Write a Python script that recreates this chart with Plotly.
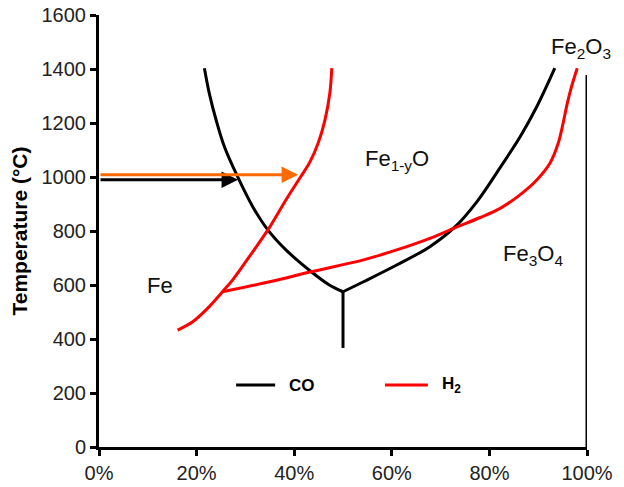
import plotly.graph_objects as go

# CO (black) boundaries
co_left_x = [21.6, 22.6, 24.0, 25.7, 28.4, 31.5, 34.6, 38.3, 43.5, 47.2, 50.0]
co_left_y = [1403, 1310, 1211, 1112, 1001, 890, 804, 730, 649, 600, 575]
co_right_x = [50.0, 54.2, 61.0, 67.8, 73.0, 77.5, 82.2, 86.3, 89.7, 93.4]
co_right_y = [575, 612, 674, 742, 816, 910, 1035, 1149, 1260, 1403]
co_stem_x = [50.0, 50.0]
co_stem_y = [575, 367]

# H2 (red) boundaries
h2_left_x = [16.1, 19.2, 22.6, 25.3, 27.4, 30.8, 34.6, 38.3, 41.3, 43.2, 44.9, 46.3, 47.3, 47.7]
h2_left_y = [433, 464, 520, 575, 619, 705, 804, 915, 1000, 1055, 1125, 1211, 1310, 1403]
h2_right_x = [25.3, 35.0, 43.5, 54.2, 61.0, 67.8, 73.5, 78.1, 82.2, 86.2, 89.7, 92.4, 94.1, 95.1, 95.9, 96.8, 98.0]
h2_right_y = [575, 612, 649, 693, 730, 773, 816, 850, 884, 933, 989, 1051, 1125, 1199, 1268, 1333, 1403]

# Fe2O3 boundary
fe2o3_x = [100, 100]
fe2o3_y = [0, 1378]

# reading arrows at ~1000 °C
co_arrow_x = [0, 28.5]
co_arrow_y = 990
h2_arrow_x = [0, 40.8]
h2_arrow_y = 1008

x_ticks = [0, 20, 40, 60, 80, 100]
x_tick_labels = ["0%", "20%", "40%", "60%", "80%", "100%"]
y_ticks = [0, 200, 400, 600, 800, 1000, 1200, 1400, 1600]

BLACK = "#000000"
RED = "#FF0000"
ORANGE = "#FF6A00"
LW = 3
FONT = "Liberation Sans, Arial, sans-serif"

fig = go.Figure()
for xs, ys, col, shp in [
    (co_left_x, co_left_y, BLACK, "spline"),
    (co_right_x, co_right_y, BLACK, "spline"),
    (co_stem_x, co_stem_y, BLACK, "linear"),
    (h2_left_x, h2_left_y, RED, "spline"),
    (h2_right_x, h2_right_y, RED, "spline"),
    (fe2o3_x, fe2o3_y, BLACK, "linear"),
]:
    fig.add_trace(go.Scatter(x=xs, y=ys, mode="lines", line=dict(color=col, width=LW, shape=shp),
                             showlegend=False, hoverinfo="skip"))

# arrows
fig.add_annotation(x=co_arrow_x[1], y=co_arrow_y, ax=co_arrow_x[0], ay=co_arrow_y,
                   xref="x", yref="y", axref="x", ayref="y",
                   showarrow=True, arrowhead=2, arrowsize=1.1, arrowwidth=3, arrowcolor=BLACK, text="")
fig.add_annotation(x=h2_arrow_x[1], y=h2_arrow_y, ax=h2_arrow_x[0], ay=h2_arrow_y,
                   xref="x", yref="y", axref="x", ayref="y",
                   showarrow=True, arrowhead=2, arrowsize=1.1, arrowwidth=3, arrowcolor=ORANGE, text="")

lab_font = dict(family=FONT, size=22, color="#111111")
fig.add_annotation(x=12.5, y=600, text="Fe", showarrow=False, font=lab_font)
fig.add_annotation(x=61, y=1063, text="Fe<sub>1-y</sub>O", showarrow=False, font=lab_font)
fig.add_annotation(x=89, y=711, text="Fe<sub>3</sub>O<sub>4</sub>", showarrow=False, font=lab_font)
fig.add_annotation(x=0.988, y=1478, xref="paper", yref="y", xanchor="center", yanchor="middle",
                   text="Fe<sub>2</sub>O<sub>3</sub>", showarrow=False, font=lab_font)

# manual legend (paper coordinates)
leg_y = 0.1435
fig.add_shape(type="line", xref="paper", yref="paper", x0=0.281, x1=0.361, y0=leg_y, y1=leg_y,
              line=dict(color=BLACK, width=LW))
fig.add_shape(type="line", xref="paper", yref="paper", x0=0.586, x1=0.674, y0=leg_y, y1=leg_y,
              line=dict(color=RED, width=LW))
leg_font = dict(family=FONT, size=17, color=BLACK)
fig.add_annotation(x=0.385, y=leg_y, xref="paper", yref="paper", xanchor="left", yanchor="middle",
                   text="<b>CO</b>", showarrow=False, font=leg_font)
fig.add_annotation(x=0.699, y=leg_y, xref="paper", yref="paper", xanchor="left", yanchor="middle",
                   text="<b>H<sub>2</sub></b>", showarrow=False, font=leg_font)

fig.update_layout(
    width=624, height=487,
    margin=dict(l=91, r=45, t=7, b=48),
    paper_bgcolor="white", plot_bgcolor="white",
    font=dict(family=FONT, color="#111111"),
    showlegend=False,
)
fig.update_xaxes(range=[0, 100], tickvals=x_ticks, ticktext=x_tick_labels, showgrid=False, zeroline=False,
                 automargin=False, ticklabeloverflow="allow",
                 showline=True, linecolor=BLACK, linewidth=3, ticks="outside", ticklen=6, tickwidth=3,
                 tickcolor=BLACK, tickfont=dict(size=20, color="#222222"))
fig.update_yaxes(range=[0, 1600], tickvals=y_ticks, showgrid=False, zeroline=False,
                 automargin=False, ticklabeloverflow="allow",
                 showline=True, linecolor=BLACK, linewidth=3, ticks="outside", ticklen=6, tickwidth=3,
                 tickcolor=BLACK, tickfont=dict(size=20, color="#222222"),
                 title=dict(text="<b>Temperature (°C)</b>", font=dict(size=21, color=BLACK), standoff=16))

fig.write_html("out.html")
